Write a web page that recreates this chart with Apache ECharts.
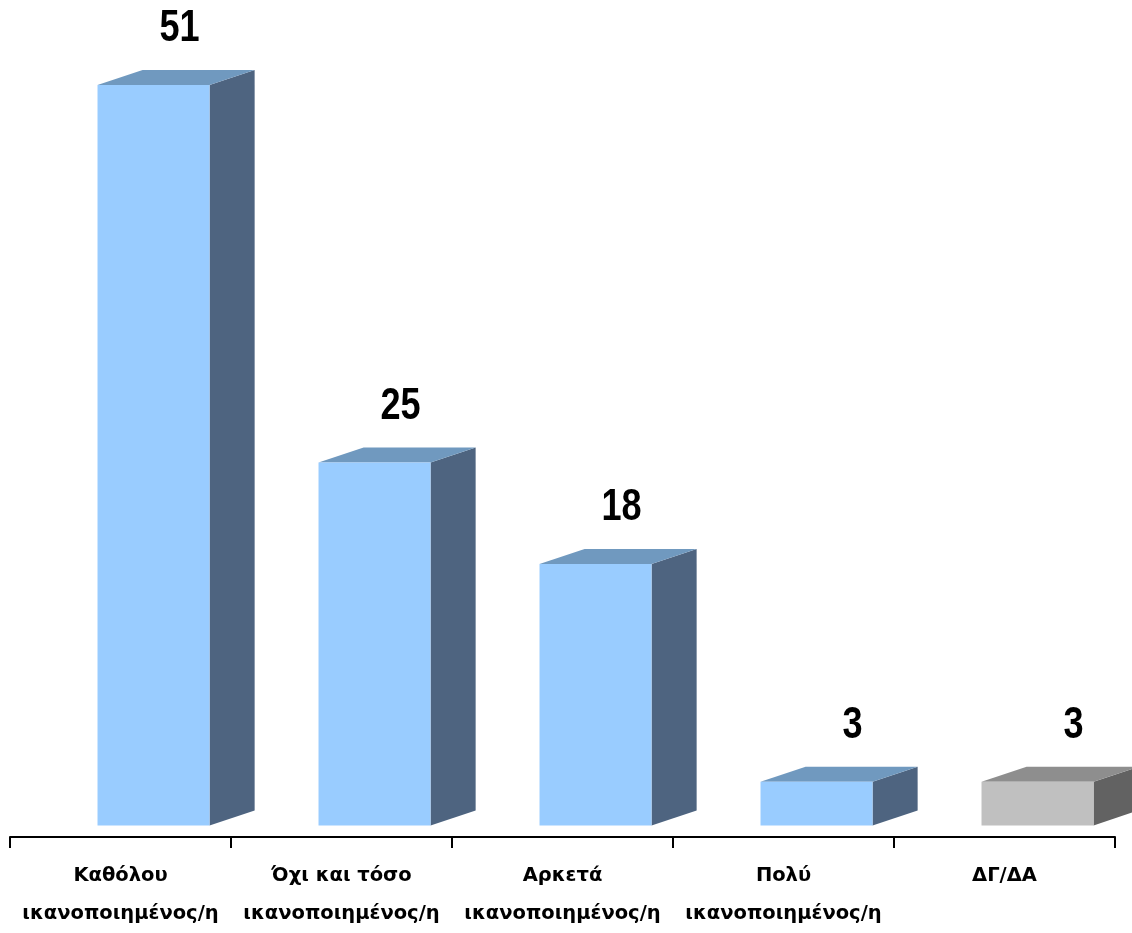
<!DOCTYPE html>
<html>
<head>
<meta charset="utf-8">
<script src="https://cdn.jsdelivr.net/npm/echarts@6/dist/echarts.min.js"></script>
<style>html,body{margin:0;padding:0;background:#fff}#c{width:1132px;height:933px}</style>
</head>
<body>
<div id="c"></div>
<script>
const categories = ['Καθόλου\nικανοποιημένος/η', 'Όχι και τόσο\nικανοποιημένος/η', 'Αρκετά\nικανοποιημένος/η', 'Πολύ\nικανοποιημένος/η', 'ΔΓ/ΔΑ'];
const values = [51, 25, 18, 3, 3];
const isGray = [false, false, false, false, true];

const BLUE = {front: '#99CCFF', side: '#4E6480', top: '#7099BF'};
const GRAY = {front: '#C0C0C0', side: '#626262', top: '#8E8E8E'};

const chart = echarts.init(document.getElementById('c'), null, {renderer: 'canvas'});

function renderItem(params, api) {
  const idx = api.value(0);
  const val = api.value(1);
  const top = api.coord([idx, val]);
  const base = api.coord([idx, 0]);
  const bw = api.size([1, 0])[0];
  const cx = top[0];
  const x0 = cx - 0.104 * bw;
  const w = 0.507 * bw;
  const dx = 0.204 * bw;
  const dy = 15;
  const yT = top[1], yB = base[1];
  const c = isGray[idx] ? GRAY : BLUE;
  const lx = x0 + 102, ly = yT - dy - 63;
  return {
    type: 'group',
    children: [
      {type: 'polygon', shape: {points: [[x0 + w, yT], [x0 + w + dx, yT - dy], [x0 + w + dx, yB - dy], [x0 + w, yB]]}, style: {fill: c.side}},
      {type: 'polygon', shape: {points: [[x0, yT], [x0 + dx, yT - dy], [x0 + w + dx, yT - dy], [x0 + w, yT]]}, style: {fill: c.top}},
      {type: 'rect', shape: {x: x0, y: yT, width: w, height: yB - yT}, style: {fill: c.front}},
      {type: 'text', x: lx, y: ly, scaleX: 0.82, originX: 0, originY: 0,
        style: {text: String(val), x: 0, y: 0, align: 'right', verticalAlign: 'top',
        font: 'bold 44px "Liberation Sans", Arial, sans-serif', fill: '#000'}}
    ]
  };
}

chart.setOption({
  animation: false,
  grid: {left: 10, right: 17, bottom: 95, top: 27},
  xAxis: {
    type: 'category',
    data: categories,
    boundaryGap: true,
    axisLine: {onZero: false, lineStyle: {color: '#000', width: 2}},
    axisTick: {show: true, length: 11, lineStyle: {color: '#000', width: 2}},
    axisLabel: {interval: 0, margin: 20, color: '#000', fontFamily: 'DejaVu Sans', fontWeight: 'bold', fontSize: 19.5, lineHeight: 38, verticalAlign: 'top'}
  },
  yAxis: {type: 'value', min: -0.8, max: 55, show: false, splitLine: {show: false}},
  series: [{
    type: 'custom',
    renderItem: renderItem,
    encode: {x: 0, y: 1},
    data: values.map((v, i) => [i, v])
  }]
});
</script>
</body>
</html>
